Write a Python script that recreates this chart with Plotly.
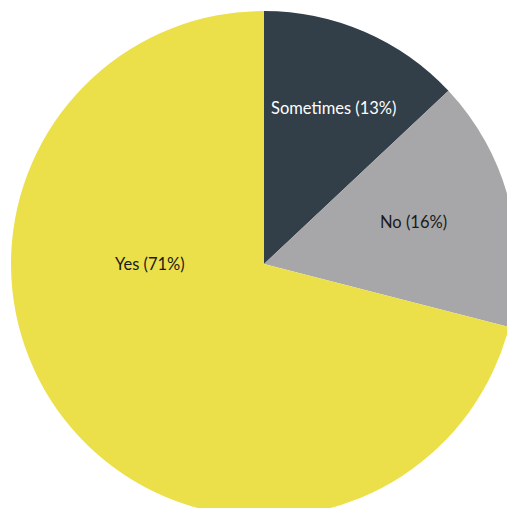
import plotly.graph_objects as go

labels = ["Sometimes", "No", "Yes"]
values = [13, 16, 71]
colors = ["#323e48", "#a7a7a9", "#ece04a"]
text_colors = ["#ffffff", "#1a1a1a", "#1a1a1a"]
# label anchor positions (paper fractions) as placed in the original chart
label_x = [0.638, 0.796, 0.275]
label_y = [0.808, 0.583, 0.5]

fig = go.Figure(go.Pie(
    labels=labels,
    values=values,
    sort=False,
    direction="clockwise",
    rotation=0,
    marker=dict(colors=colors, line=dict(width=0)),
    textinfo="none",
    hoverinfo="label+percent",
    showlegend=False,
))

total = sum(values)
for lab, v, c, x, y in zip(labels, values, text_colors, label_x, label_y):
    fig.add_annotation(
        x=x, y=y, xref="paper", yref="paper",
        text=f"{lab} ({round(100 * v / total)}%)",
        showarrow=False,
        font=dict(family="Lato", size=16.5, color=c),
        xanchor="center", yanchor="middle",
    )

fig.update_layout(
    width=528, height=528,
    margin=dict(l=11, r=11, t=11, b=11),
    paper_bgcolor="white",
    plot_bgcolor="white",
    showlegend=False,
)

fig.write_html(
    "out.html",
    config={"displayModeBar": False},
    post_script="document.body.style.margin='0';document.body.style.overflow='hidden';",
)
